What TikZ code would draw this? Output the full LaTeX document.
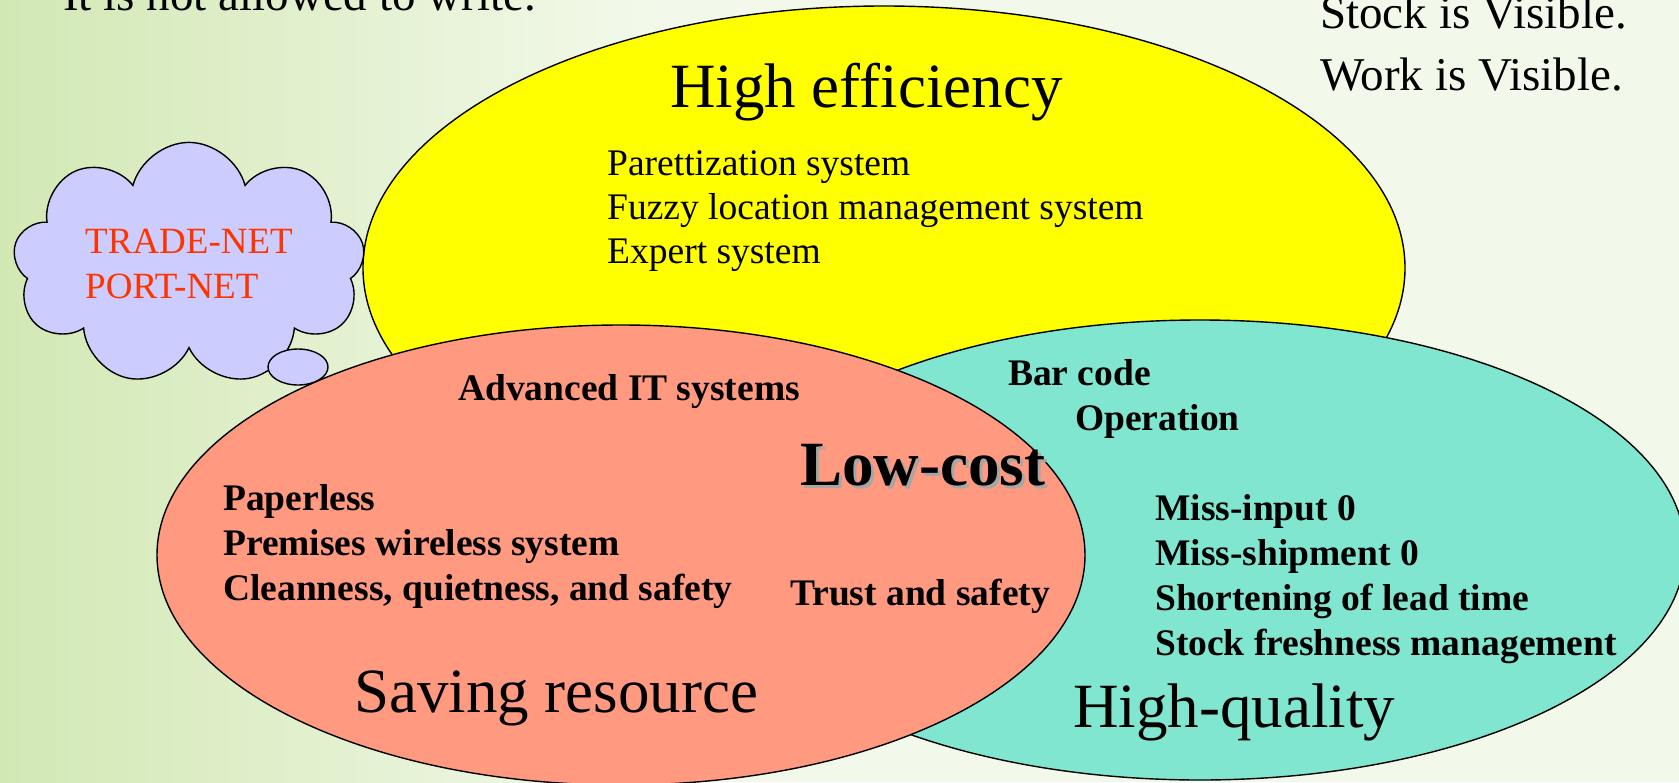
\documentclass[tikz,border=0pt]{standalone}
\usepackage{fontspec}
\setmainfont{Liberation Serif}
\usetikzlibrary{shapes.symbols}

\definecolor{effyellow}{HTML}{FFFF00}
\definecolor{costsalmon}{HTML}{FF9980}
\definecolor{qualteal}{HTML}{80E6D0}
\definecolor{cloudblue}{HTML}{CCCCFF}
\definecolor{netred}{HTML}{FF3300}
\definecolor{bgpale}{HTML}{F3F9EA}
\definecolor{bggreen}{HTML}{D2E8B4}

\tikzset{
  circ/.style={draw=black, line width=1.4pt},
  head/.style={font=\fontsize{63}{70}\selectfont, inner sep=0pt, anchor=base west},
  item/.style={font=\fontsize{37.5}{45}\selectfont, inner sep=0pt, anchor=base west},
  bolditem/.style={item, font=\fontsize{37.5}{45}\selectfont\bfseries},
  note/.style={font=\fontsize{47}{56}\selectfont, inner sep=0pt, anchor=base west},
}

\begin{document}
\begin{tikzpicture}[x=1pt,y=-1pt]
\useasboundingbox (0,0) rectangle (1679,782);
\clip (0,0) rectangle (1679,782);

% background
\fill[bgpale] (0,0) rectangle (1679,782);
\shade[left color=bggreen, right color=bgpale] (0,0) rectangle (650,782);

% three circles
\draw[circ, fill=effyellow] (884,268) ellipse [x radius=521, y radius=262];
\draw[circ, fill=qualteal] (1200,550) ellipse [x radius=485, y radius=230];
\draw[circ, fill=costsalmon] (621,555) ellipse [x radius=464, y radius=230];

% thought cloud
\node[cloud, cloud puffs=9, aspect=1.66, circ, fill=cloudblue,
      minimum width=352, minimum height=212, inner sep=0pt,
      text=netred, align=left, font=\fontsize{37}{45}\selectfont] (net) at (189,264)
  {TRADE-NET\\PORT-NET};
\draw[circ, fill=cloudblue] (298,367) ellipse [x radius=30, y radius=18];

% notes at the top
\node[note] (nowrite) at (63,10) {It is not allowed to write.};
\node[note] (stock) at (1320,28) {Stock is Visible.};
\node[note] (work) at (1320,90) {Work is Visible.};

% high efficiency
\node[head] (eff) at (670,107) {High efficiency};
\foreach \t [count=\i from 0] in {Parettization system, Fuzzy location management system, Expert system}
  \node[item] (eff\i) at (607,175+44*\i) {\t};

% saving resource
\node[bolditem] (adv) at (458,400) {Advanced IT systems};
\foreach \t [count=\i from 0] in {Paperless, Premises wireless system, {Cleanness, quietness, and safety}}
  \node[bolditem] (sav\i) at (223,510+45*\i) {\t};
\node[bolditem] (trust) at (790,605) {Trust and safety};
\node[head] (sav) at (354,712) {Saving resource};

% low cost
\node[head, font=\fontsize{63}{70}\selectfont\bfseries, text=black!35] (lowshadow) at (803,488) {Low-cost};
\node[head, font=\fontsize{63}{70}\selectfont\bfseries] (low) at (800,485) {Low-cost};

% high quality
\node[bolditem] (bar) at (1008,385) {Bar code};
\node[bolditem] (oper) at (1075,430) {Operation};
\foreach \t [count=\i from 0] in {Miss-input 0, Miss-shipment 0, Shortening of lead time, Stock freshness management}
  \node[bolditem] (qual\i) at (1155,520+45*\i) {\t};
\node[head] (qual) at (1073,727) {High-quality};
\end{tikzpicture}
\end{document}
